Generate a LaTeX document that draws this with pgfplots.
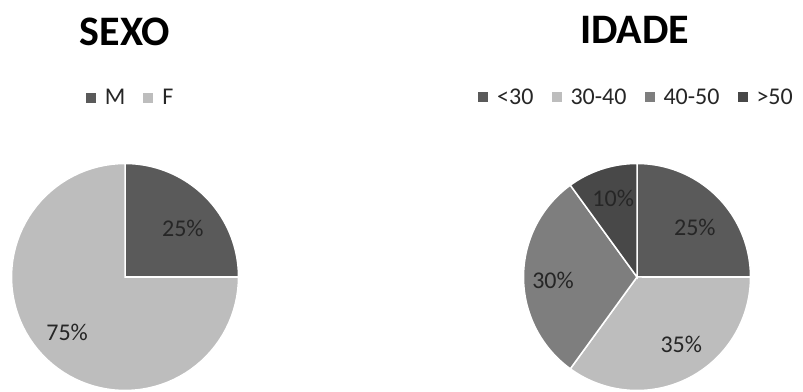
\documentclass[border=0pt]{standalone}
\usepackage{pgfplots}
\pgfplotsset{compat=1.18}
\usepackage{fontspec}
\setmainfont{Carlito}
\definecolor{cDark}{HTML}{5A5A5A}
\definecolor{cLight}{HTML}{BDBDBD}
\definecolor{cMid}{HTML}{7E7E7E}
\definecolor{cDarker}{HTML}{484848}
\definecolor{cText}{HTML}{262626}
\newcommand{\lgf}{\fontsize{24}{27}\selectfont}
\pgfplotsset{
  pie/.style={
    width=227pt, height=227pt, scale only axis,
    xmin=-1, xmax=1, ymin=-1, ymax=1,
    hide axis, clip=false, anchor=center,
    legend columns=-1,
    legend image code/.code={\fill[##1,draw=none] (0pt,-5pt) rectangle (10pt,5pt);},
    legend style={draw=none, fill=none, font=\lgf, text=cText, anchor=center,
      /tikz/every odd column/.append style={column sep=9pt},
      /tikz/every even column/.append style={column sep=18pt},
      nodes={inner sep=0pt, font=\lgf}},
  },
  wedge/.style={draw=white, line width=1.5pt, samples=80},
}
\begin{document}
\begin{tikzpicture}
\useasboundingbox (0pt,0pt) rectangle (803pt,391pt);
% SEXO: M 25, F 75
\begin{axis}[pie, at={(125pt,114pt)}, legend style={at={(axis cs:0.04,1.577)}}]
\addplot[wedge, fill=cDark, domain=0:90] ({cos(x)},{sin(x)}) -- (axis cs:0,0) -- cycle;
\addlegendentry{\lgf M}
\addplot[wedge, fill=cLight, domain=-270:0] ({cos(x)},{sin(x)}) -- (axis cs:0,0) -- cycle;
\addlegendentry{\lgf F}
\node[font=\lgf, text=cText] at (axis cs:0.51,0.43) {25\%};
\node[font=\lgf, text=cText] at (axis cs:-0.51,-0.49) {75\%};
\node[font=\bfseries\fontsize{42}{45}\selectfont, text=black] at (axis cs:0,2.16) {SEXO};
\end{axis}
% IDADE: <30 25, 30-40 35, 40-50 30, >50 10
\begin{axis}[pie, at={(637pt,114pt)}, legend style={at={(axis cs:-0.013,1.586)}}]
\addplot[wedge, fill=cDark, domain=0:90] ({cos(x)},{sin(x)}) -- (axis cs:0,0) -- cycle;
\addlegendentry{\lgf <30}
\addplot[wedge, fill=cLight, domain=-126:0] ({cos(x)},{sin(x)}) -- (axis cs:0,0) -- cycle;
\addlegendentry{\lgf 30-40}
\addplot[wedge, fill=cMid, domain=-234:-126] ({cos(x)},{sin(x)}) -- (axis cs:0,0) -- cycle;
\addlegendentry{\lgf 40-50}
\addplot[wedge, fill=cDarker, domain=-270:-234] ({cos(x)},{sin(x)}) -- (axis cs:0,0) -- cycle;
\addlegendentry{\lgf >50}
\node[font=\lgf, text=cText] at (axis cs:0.51,0.44) {25\%};
\node[font=\lgf, text=cText] at (axis cs:0.39,-0.59) {35\%};
\node[font=\lgf, text=cText] at (axis cs:-0.74,-0.03) {30\%};
\node[font=\lgf, text=cText] at (axis cs:-0.21,0.69) {10\%};
\node[font=\bfseries\fontsize{42}{45}\selectfont, text=black] at (axis cs:-0.02,2.18) {IDADE};
\end{axis}
\end{tikzpicture}
\end{document}
